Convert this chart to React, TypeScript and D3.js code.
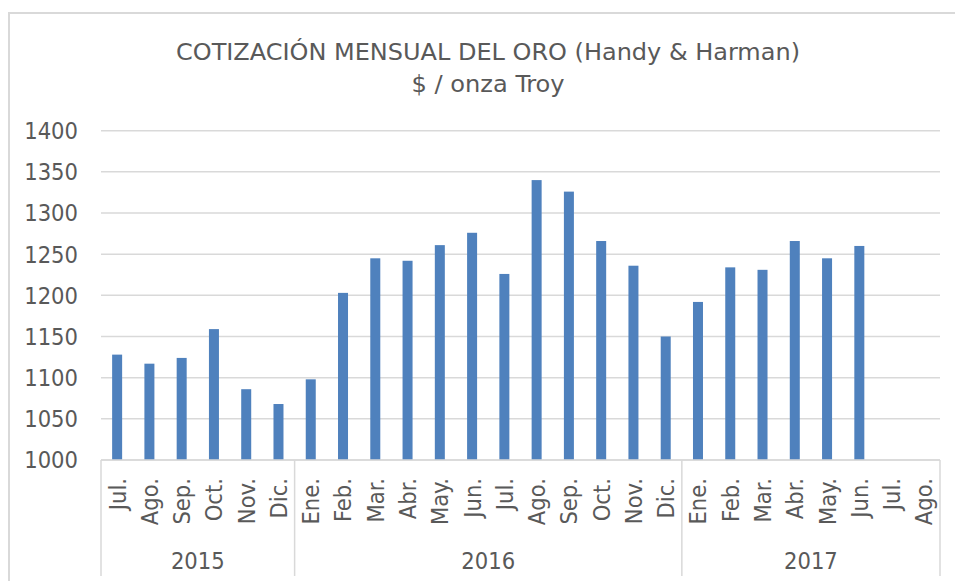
import React from "react";
import * as d3 from "d3";

const titleLines = ["COTIZACIÓN MENSUAL DEL ORO (Handy & Harman)", "$ / onza Troy"];
const months = [
  "Jul.", "Ago.", "Sep.", "Oct.", "Nov.", "Dic.",
  "Ene.", "Feb.", "Mar.", "Abr.", "May.", "Jun.", "Jul.", "Ago.", "Sep.", "Oct.", "Nov.", "Dic.",
  "Ene.", "Feb.", "Mar.", "Abr.", "May.", "Jun.", "Jul.", "Ago.",
];
const years = ["2015", "2016", "2017"];
const monthsPerYear = [6, 12, 8];
const prices: (number | null)[] = [
  1128, 1117, 1124, 1159, 1086, 1068,
  1098, 1203, 1245, 1242, 1261, 1276, 1226, 1340, 1326, 1266, 1236, 1150,
  1192, 1234, 1231, 1266, 1245, 1260, null, null,
];
const yTicks = [1000, 1050, 1100, 1150, 1200, 1250, 1300, 1350, 1400];

const W = 955;
const H = 581;
const FONT = "'DejaVu Sans Condensed', 'DejaVu Sans', sans-serif";
const TEXT = "#595959";
const GRID = "#D9D9D9";
const BAR = "#4F81BD";

export default function App() {
  const plotL = 101;
  const plotR = 940;
  const plotT = 130.7;
  const plotB = 460;

  const idx = months.map((_, i) => i);
  const x = d3.scaleBand<number>().domain(idx).range([plotL, plotR]).padding(0);
  const y = d3.scaleLinear().domain([1000, 1400]).range([plotB, plotT]);
  const step = x.step();
  const barW = step * 0.31;

  const boundaries: number[] = [0];
  monthsPerYear.forEach((n, i) => boundaries.push(boundaries[i] + n));
  const bx = (k: number) => (k < months.length ? (x(k) as number) : plotR);

  const axisFs = 23.5;

  return (
    <div style={{ position: "absolute", left: 0, top: 0, width: W, height: H, overflow: "hidden", background: "#fff" }}>
      <svg width={W} height={H} style={{ display: "block" }} fontFamily={FONT}>
        <rect x={0} y={0} width={W} height={H} fill="#fff" />
        {/* chart border (clipped on right / bottom) */}
        <rect x={9} y={13} width={W + 20} height={H + 20} fill="none" stroke={GRID} strokeWidth={2} />

        {/* title */}
        <text x={488} y={59.5} textAnchor="middle" fontSize={23} fill={TEXT}
          textLength={624} lengthAdjust="spacingAndGlyphs">{titleLines[0]}</text>
        <text x={488} y={92} textAnchor="middle" fontSize={23} fill={TEXT}
          textLength={153} lengthAdjust="spacingAndGlyphs">{titleLines[1]}</text>

        {/* gridlines */}
        {yTicks.map((t) => (
          <line key={"g" + t} x1={plotL} x2={plotR} y1={y(t)} y2={y(t)} stroke={GRID} strokeWidth={1.5} />
        ))}

        {/* y tick labels */}
        {yTicks.map((t) => (
          <text key={"yl" + t} x={78} y={y(t)} dy="0.36em" textAnchor="end" fontSize={axisFs} fill={TEXT}>
            {t}
          </text>
        ))}

        {/* bars */}
        {prices.map((v, i) =>
          v == null ? null : (
            <rect
              key={"b" + i}
              x={(x(i) as number) + step / 2 - barW / 2}
              y={y(v)}
              width={barW}
              height={y(1000) - y(v)}
              fill={BAR}
            />
          )
        )}

        {/* category axis line */}
        <line x1={plotL} x2={plotR} y1={plotB} y2={plotB} stroke={GRID} strokeWidth={1.5} />
        {/* group dividers */}
        {boundaries.map((k, i) => (
          <line key={"d" + i} x1={bx(k)} x2={bx(k)} y1={plotB} y2={576} stroke={GRID} strokeWidth={1.5} />
        ))}

        {/* month labels */}
        {months.map((m, i) => {
          const cx = (x(i) as number) + step / 2;
          return (
            <text
              key={"m" + i}
              transform={`translate(${cx + axisFs * 0.36},478) rotate(-90)`}
              textAnchor="end"
              fontSize={axisFs}
              fill={TEXT}
            >
              {m}
            </text>
          );
        })}

        {/* year labels */}
        {years.map((yr, i) => {
          const cx = (bx(boundaries[i]) + bx(boundaries[i + 1])) / 2;
          return (
            <text key={"y" + yr} x={cx} y={569} textAnchor="middle" fontSize={axisFs} fill={TEXT}>
              {yr}
            </text>
          );
        })}
      </svg>
    </div>
  );
}
